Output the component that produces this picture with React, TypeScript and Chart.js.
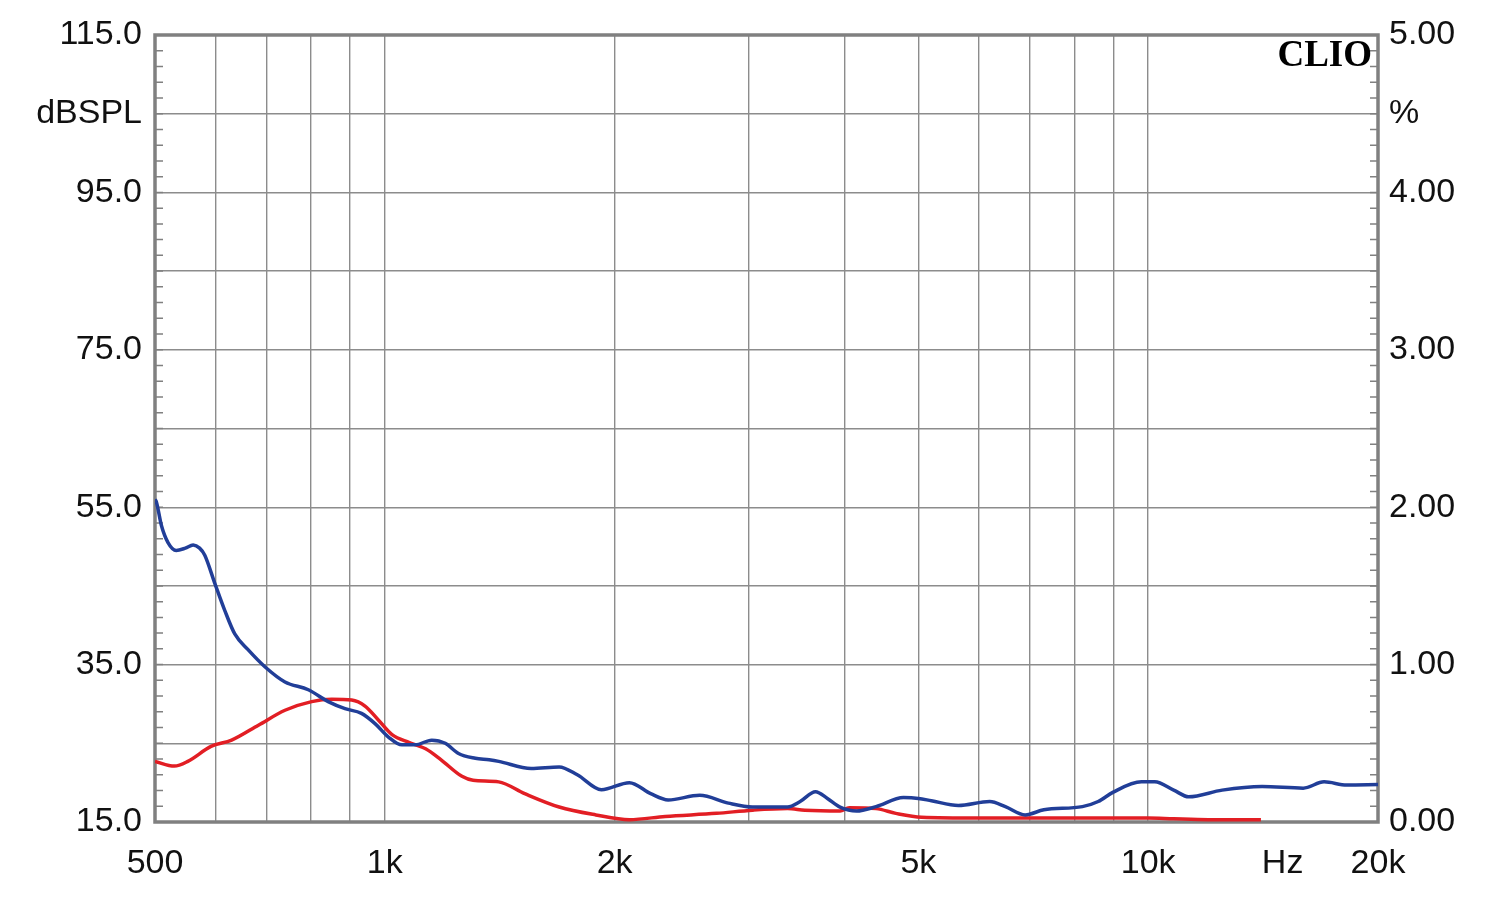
import React, { useEffect, useRef } from 'react';
import { Chart, registerables } from 'chart.js';

Chart.register(...registerables);

// ---- data (frequency in Hz, level in dBSPL) ----
const blueFreq = [500, 502, 510, 520, 533, 548, 561, 572, 581, 599, 617, 636, 662, 697, 740, 794, 843, 887, 932, 971, 1011, 1053, 1096, 1152, 1200, 1249, 1314, 1370, 1410, 1555, 1692, 1787, 1922, 2091, 2230, 2351, 2585, 2819, 3031, 3369, 3500, 3666, 3800, 3948, 4150, 4400, 4780, 5000, 5200, 5640, 6200, 6500, 6900, 7300, 8200, 8600, 9000, 9800, 10200, 10800, 11300, 12500, 14100, 15960, 17000, 18200, 20000];
const blueDb = [56.0, 55.7, 52.6, 50.5, 49.5, 49.8, 50.2, 49.8, 48.9, 45.3, 41.9, 38.9, 36.9, 34.7, 32.8, 31.8, 30.3, 29.4, 28.8, 27.5, 25.8, 24.8, 24.8, 25.4, 25.0, 23.7, 23.1, 22.9, 22.7, 21.8, 22.0, 21.0, 19.1, 20.0, 18.6, 17.8, 18.4, 17.4, 16.9, 16.9, 17.6, 18.85, 18.0, 16.9, 16.4, 16.95, 18.1, 18.0, 17.7, 17.1, 17.6, 16.95, 15.9, 16.55, 16.95, 17.6, 18.8, 20.1, 20.1, 19.05, 18.2, 19.05, 19.5, 19.3, 20.1, 19.7, 19.75];

const redFreq = [500, 530, 552, 592, 630, 683, 740, 802, 852, 905, 943, 980, 1022, 1077, 1131, 1185, 1262, 1305, 1410, 1525, 1692, 1890, 2091, 2330, 2720, 3031, 3369, 3550, 3948, 4058, 4400, 4670, 5050, 6000, 8000, 10000, 10800, 12000, 14050];
const redDb = [22.7, 22.1, 22.7, 24.6, 25.4, 27.3, 29.2, 30.3, 30.6, 30.5, 29.7, 28.0, 26.1, 25.1, 24.3, 22.9, 20.8, 20.3, 20.1, 18.6, 16.9, 15.9, 15.3, 15.7, 16.1, 16.5, 16.7, 16.5, 16.4, 16.8, 16.7, 16.1, 15.6, 15.5, 15.5, 15.5, 15.4, 15.3, 15.3];

// ---- axes ----
const xTickValues = [500, 600, 700, 800, 900, 1000, 2000, 3000, 4000, 5000, 6000, 7000, 8000, 9000, 10000, 15000, 20000];
const xTickLabels: Record<string, string> = { '500': '500', '1000': '1k', '2000': '2k', '5000': '5k', '10000': '10k', '15000': 'Hz', '20000': '20k' };
const xNoGrid = [15000];

const leftTickValues = [15, 25, 35, 45, 55, 65, 75, 85, 95, 105, 115];
const leftTickLabels: Record<string, string> = { '115': '115.0', '105': 'dBSPL', '95': '95.0', '75': '75.0', '55': '55.0', '35': '35.0', '15': '15.0' };

const rightTickValues = [0, 0.5, 1, 1.5, 2, 2.5, 3, 3.5, 4, 4.5, 5];
const rightTickLabels: Record<string, string> = { '5': '5.00', '4.5': '%', '4': '4.00', '3': '3.00', '2': '2.00', '1': '1.00', '0': '0.00' };

const minorTickStep = 2;
const brandLabel = 'CLIO';

const FONT = '"Liberation Sans", Arial, sans-serif';
const GRID = '#8c8c8c';
const FRAME = '#808080';
const TEXT = '#111111';

const framePlugin = {
  id: 'frame',
  beforeDatasetsDraw(chart: any) {
    const { ctx, chartArea } = chart;
    const { left, right, top, bottom } = chartArea;
    const ys = chart.scales.y;
    ctx.save();
    ctx.strokeStyle = FRAME;
    ctx.lineWidth = 1.5;
    for (let v = ys.min; v <= ys.max + 1e-9; v += minorTickStep) {
      const y = ys.getPixelForValue(v);
      ctx.beginPath();
      ctx.moveTo(left, y);
      ctx.lineTo(left + 8, y);
      ctx.moveTo(right - 8, y);
      ctx.lineTo(right, y);
      ctx.stroke();
    }
    ctx.lineWidth = 3.5;
    ctx.strokeRect(left, top, right - left, bottom - top);
    ctx.restore();
  },
  afterDatasetsDraw(chart: any) {
    const { ctx, chartArea } = chart;
    ctx.save();
    ctx.fillStyle = '#000';
    ctx.font = 'bold 37px "Liberation Serif", "Times New Roman", serif';
    ctx.textAlign = 'right';
    ctx.textBaseline = 'alphabetic';
    ctx.fillText(brandLabel, chartArea.right - 6, chartArea.top + 31);
    ctx.restore();
  },
};

export default function App() {
  const ref = useRef<HTMLCanvasElement>(null);

  useEffect(() => {
    if (!ref.current) return;
    const tickFont = { family: FONT, size: 34 };
    const chart = new Chart(ref.current, {
      type: 'line',
      data: {
        datasets: [
          {
            label: 'blue',
            data: blueFreq.map((f, i) => ({ x: f, y: blueDb[i] })),
            borderColor: 'rgb(33,62,152)',
            borderWidth: 3.5,
            pointRadius: 0,
            cubicInterpolationMode: 'monotone',
            yAxisID: 'y',
          },
          {
            label: 'red',
            data: redFreq.map((f, i) => ({ x: f, y: redDb[i] })),
            borderColor: 'rgb(226,30,36)',
            borderWidth: 3.5,
            pointRadius: 0,
            cubicInterpolationMode: 'monotone',
            yAxisID: 'y',
          },
        ],
      },
      options: {
        animation: false,
        responsive: false,
        devicePixelRatio: 1,
        layout: { padding: { top: 35, left: 0, right: 0, bottom: 0 } },
        plugins: { legend: { display: false }, tooltip: { enabled: false } },
        scales: {
          x: {
            type: 'logarithmic',
            min: 500,
            max: 20000,
            afterBuildTicks: (s: any) => { s.ticks = xTickValues.map((v) => ({ value: v })); },
            afterFit: (s: any) => { s.height = 77; },
            ticks: {
              autoSkip: false,
              maxRotation: 0,
              minRotation: 0,
              padding: 21,
              font: tickFont,
              color: TEXT,
              callback: (v: any) => xTickLabels[String(v)] ?? '',
            },
            grid: {
              drawTicks: false,
              lineWidth: 1.4,
              color: (c: any) => (c.tick && xNoGrid.includes(c.tick.value) ? 'rgba(0,0,0,0)' : GRID),
            },
            border: { display: false },
          },
          y: {
            position: 'left',
            min: 15,
            max: 115,
            afterBuildTicks: (s: any) => { s.ticks = leftTickValues.map((v) => ({ value: v })); },
            afterFit: (s: any) => { s.width = 155; },
            ticks: {
              autoSkip: false,
              padding: 13,
              font: tickFont,
              color: TEXT,
              callback: (v: any) => leftTickLabels[String(v)] ?? '',
            },
            grid: { drawTicks: false, lineWidth: 1.4, color: GRID },
            border: { display: false },
          },
          y2: {
            position: 'right',
            min: 0,
            max: 5,
            afterBuildTicks: (s: any) => { s.ticks = rightTickValues.map((v) => ({ value: v })); },
            afterFit: (s: any) => { s.width = 122; },
            ticks: {
              autoSkip: false,
              padding: 11,
              font: tickFont,
              color: TEXT,
              callback: (v: any) => rightTickLabels[String(v)] ?? '',
            },
            grid: { display: false, drawTicks: false },
            border: { display: false },
          },
        },
      } as any,
      plugins: [framePlugin],
    });
    return () => chart.destroy();
  }, []);

  return (
    <div style={{ position: 'fixed', left: 0, top: 0, width: 1500, height: 899, background: '#fff' }}>
      <canvas ref={ref} width={1500} height={899} style={{ display: 'block', width: 1500, height: 899 }} />
    </div>
  );
}
